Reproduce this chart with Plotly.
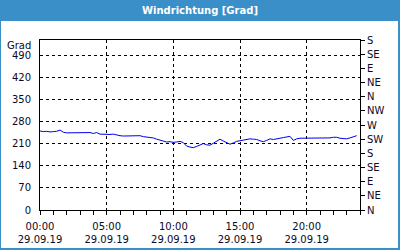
import pandas as pd
import plotly.graph_objects as go

# Data: wind direction in degrees, 15-minute samples on 29.09.19
start_time = "2019-09-29 00:00"
values = [
    251, 249, 250, 248, 249, 250, 254, 247,
    245, 245, 245, 245, 245, 245, 244, 246,
    243, 246, 241, 240, 239, 240, 241, 238,
    236, 235, 235, 234, 235, 234, 236, 233,
    232, 230, 229, 225, 222, 218, 216, 217,
    215, 216, 218, 214, 203, 200, 198, 202,
    206, 211, 207, 206, 212, 218, 225, 219,
    214, 209, 213, 218, 220, 222, 224, 226,
    225, 224, 220, 217, 221, 226, 224, 227,
    228, 230, 232, 234, 221, 226, 228, 228,
    228, 228, 228, 227, 228, 228, 228, 229,
    231, 231, 228, 226, 226, 229, 233, 236,
]
times = pd.date_range(start_time, periods=len(values), freq="15min")

left_ticks = [0, 70, 140, 210, 280, 350, 420, 490]
right_ticks = [0, 45, 90, 135, 180, 225, 270, 315, 360, 405, 450, 495, 540]
right_labels = ["N", "NE", "E", "SE", "S", "SW", "W", "NW", "N", "NE", "E", "SE", "S"]
title_text = "Windrichtung [Grad]"
unit_text = "Grad"

FONT = "DejaVu Sans"
TXT = "#0a0a28"
BLUE = "#3b8fc8"
DASH = "3px,3px"

fig = go.Figure()
fig.add_trace(go.Scatter(x=times, y=values, mode="lines",
                         line=dict(color="#0000ee", width=1), showlegend=False))
# invisible trace to activate right axis
fig.add_trace(go.Scatter(x=[times[0]], y=[0], yaxis="y2", mode="markers",
                         marker=dict(opacity=0), showlegend=False, hoverinfo="skip"))

L, R, T, B = 40, 40, 40, 40
W, H = 400, 250
pw, ph = W - L - R, H - T - B

def px(x):
    return (x - L) / pw

def py(y):
    return (H - B - y) / ph

fig.update_layout(
    width=W, height=H,
    margin=dict(l=L, r=R, t=T, b=B, pad=0, autoexpand=False),
    paper_bgcolor=BLUE, plot_bgcolor="white",
    font=dict(family=FONT, size=10, color=TXT),
    xaxis=dict(
        type="date", automargin=False,
        range=["2019-09-29 00:00", "2019-09-30 00:00"],
        tick0="2019-09-29 00:00", dtick=5 * 3600000,
        tickformat="%H:%M<br>%d.%m.%y",
        ticks="outside", ticklen=4, tickcolor="black",
        showline=True, linecolor="black", linewidth=1, mirror=True,
        showgrid=True, gridcolor="black", griddash=DASH, gridwidth=1,
        minor=dict(dtick=3600000, ticks="outside", ticklen=4, tickcolor="black", showgrid=False),
        zeroline=False, ticklabelstandoff=3,
        tickfont=dict(size=10, color=TXT),
    ),
    yaxis=dict(
        range=[0, 540], tickvals=left_ticks, ticks="", automargin=False,
        showline=True, linecolor="black", linewidth=1, mirror=True,
        showgrid=True, gridcolor="black", griddash=DASH, gridwidth=1,
        zeroline=False, ticklabelstandoff=6,
        tickfont=dict(size=10, color=TXT),
    ),
    yaxis2=dict(
        range=[0, 540], overlaying="y", side="right", automargin=False,
        tickvals=right_ticks, ticktext=right_labels,
        ticks="outside", ticklen=4, tickcolor="black",
        showgrid=False, zeroline=False, showline=False,
        tickfont=dict(size=10, color=TXT),
    ),
    shapes=[
        dict(type="rect", xref="paper", yref="paper", layer="below",
             x0=px(1), x1=px(398), y0=py(21), y1=py(248),
             fillcolor="white", line=dict(width=0)),
    ],
    annotations=[
        dict(text=title_text, xref="paper", yref="paper", x=px(200), y=py(10.5),
             showarrow=False, xanchor="center", yanchor="middle",
             font=dict(family=FONT, size=10, color="white", weight="bold")),
        dict(text=unit_text, xref="paper", yref="paper", x=px(33), y=py(45),
             showarrow=False, xanchor="right", yanchor="middle",
             font=dict(family=FONT, size=10, color=TXT)),
    ],
)

fig.write_html("out.html")
